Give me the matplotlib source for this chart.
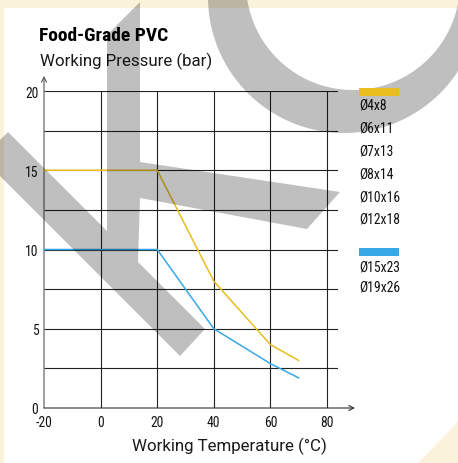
import numpy as np
import matplotlib
matplotlib.use("Agg")
import matplotlib.pyplot as plt
from matplotlib.transforms import Affine2D
from matplotlib.patches import Rectangle, Polygon, PathPatch
from matplotlib.path import Path

# ---------------- data ----------------
temps_a = [-20, 20, 40, 60, 70]
pressure_a = [15, 15, 8, 4, 3]
temps_b = [-20, 20, 40, 60, 70]
pressure_b = [10, 10, 5, 2.8, 1.9]
labels_a = ["Ø4x8", "Ø6x11", "Ø7x13", "Ø8x14", "Ø10x16", "Ø12x18"]
labels_b = ["Ø15x23", "Ø19x26"]
x_ticks = [-20, 0, 20, 40, 60, 80]
y_ticks = [0, 5, 10, 15, 20]
y_grid = [2.5, 5, 7.5, 10, 12.5, 15, 17.5, 20]
x_grid = [0, 20, 40, 60, 80]
title = "Food-Grade PVC"
ylabel = "Working Pressure (bar)"
xlabel = "Working Temperature (°C)"

col_a = "#e8bf1f"
col_b = "#37a8e6"
cream = "#fbf2da"

cond = dict(family=["Roboto Condensed", "DejaVu Sans"])
light = dict(family=["Roboto", "DejaVu Sans"], weight="normal")

W, H = 458, 464
fig = plt.figure(figsize=(W / 100, H / 100), dpi=100)
fig.patch.set_facecolor("white")
px = Affine2D().scale(1 / 100, -1 / 100).translate(0, H / 100) + fig.dpi_scale_trans

# background decoration
fig.patches.append(Rectangle((0, 0), W, 8.5, transform=px, facecolor=cream, edgecolor="none", zorder=-5))
fig.patches.append(Rectangle((0, 0), 3.5, H, transform=px, facecolor=cream, edgecolor="none", zorder=-5))
fig.patches.append(Polygon([(458, 423), (418, 464), (458, 464)], closed=True, transform=px,
                           facecolor=cream, edgecolor="none", zorder=-5))

# ---------------- axes ----------------
x0, x1 = 44, 338
y0, y1 = 409, 92
ax = fig.add_axes([x0 / W, (H - y0) / H, (x1 - x0) / W, (y0 - y1) / H])
ax.patch.set_visible(False)
xmax = 80 + (x1 - 327) / 2.83
ax.set_xlim(-20, xmax)
ax.set_ylim(0, 20)
for s in ax.spines.values():
    s.set_visible(False)

gcol = "#222222"
ax.hlines(y_grid, -20, xmax, colors=gcol, lw=0.8, zorder=1)
ax.vlines(x_grid, 0, 20, colors=gcol, lw=0.8, zorder=1)

# axes with arrows
ax.annotate("", xy=(-20, 20.95), xytext=(-20, 0), xycoords="data",
            arrowprops=dict(arrowstyle="->", lw=0.8, color="#555555", shrinkA=0, shrinkB=0,
                            mutation_scale=9), annotation_clip=False)
ax.annotate("", xy=(xmax + (355 - x1) / 2.83, 0), xytext=(-20, 0), xycoords="data",
            arrowprops=dict(arrowstyle="->", lw=0.8, color="#333333", shrinkA=0, shrinkB=0,
                            mutation_scale=9), annotation_clip=False)

ax.plot(temps_a, pressure_a, color=col_a, lw=1.1, zorder=3, clip_on=False)
ax.plot(temps_b, pressure_b, color=col_b, lw=1.1, zorder=3, clip_on=False)

ax.set_xticks(x_ticks)
ax.set_yticks(y_ticks)
ax.set_xticklabels([str(v) for v in x_ticks], fontsize=9.8, **cond)
ax.set_yticklabels([str(v) for v in y_ticks], fontsize=9.8, **cond)
ax.tick_params(axis="x", length=0, pad=5, colors="#111111")
ax.tick_params(axis="y", length=0, pad=4, colors="#111111")

# ---------------- texts ----------------
fig.text(39, 41, title, transform=px, fontsize=14, weight="bold", color="#000000",
         ha="left", va="baseline", **cond)
fig.text(39.5, 66, ylabel, transform=px, fontsize=12.2, color="#1a1a1a",
         ha="left", va="baseline", **light)
fig.text(229, 451, xlabel, transform=px, fontsize=12.2, color="#1a1a1a",
         ha="center", va="baseline", **light)

# legend
fig.patches.append(Rectangle((359, 89), 40, 8, transform=px, facecolor=col_a, edgecolor="none", zorder=30))
fig.patches.append(Rectangle((359, 249), 40, 8, transform=px, facecolor=col_b, edgecolor="none", zorder=30))
for i, lab in enumerate(labels_a):
    fig.text(359, 106 + 22.8 * i, lab, transform=px, fontsize=9.8, color="#111111",
             ha="left", va="center", **cond)
for i, lab in enumerate(labels_b):
    fig.text(359, 268 + 20 * i, lab, transform=px, fontsize=9.8, color="#111111",
             ha="left", va="center", **cond)

# ---------------- watermark ----------------
wm = dict(facecolor="black", alpha=0.25, edgecolor="none", zorder=20, transform=px)
k_shape = [(140, 3), (140, 163), (340, 193), (307, 230), (140, 199), (138, 263), (205, 330),
           (180, 357), (0, 177), (0, 141), (8, 133), (107, 232), (107, 36)]
fig.patches.append(Polygon(k_shape, closed=True, **wm))

t = np.linspace(0, 2 * np.pi, 240)
outer = np.column_stack([344 + 136 * np.cos(t), -2 + 136 * np.sin(t)])
inner = np.column_stack([353 + 107 * np.cos(t), -16 + 107 * np.sin(t)])[::-1]
verts = np.vstack([outer, outer[:1], inner, inner[:1]])
codes = ([Path.MOVETO] + [Path.LINETO] * (len(outer) - 1) + [Path.CLOSEPOLY] +
         [Path.MOVETO] + [Path.LINETO] * (len(inner) - 1) + [Path.CLOSEPOLY])
fig.patches.append(PathPatch(Path(verts, codes), **wm))

fig.savefig("out.png", dpi=100)
